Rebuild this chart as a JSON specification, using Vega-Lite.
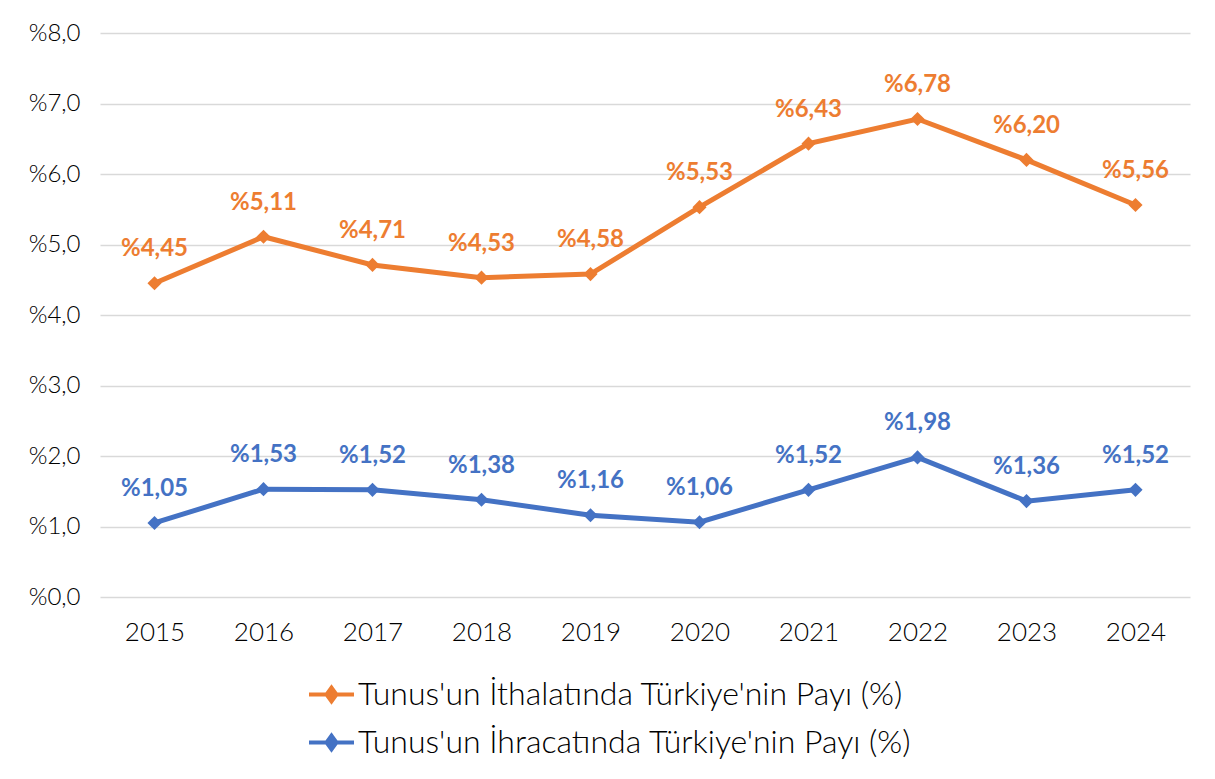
{
  "$schema": "https://vega.github.io/schema/vega-lite/v6.json",
  "width": 1090,
  "height": 564,
  "autosize": "none",
  "padding": {"left": 100, "top": 33, "right": 25, "bottom": 182},
  "background": "white",
  "config": {
    "view": {"stroke": null},
    "font": "Lato",
    "axis": {"labelFont": "Lato", "labelFontWeight": 300, "labelColor": "#000000", "domain": false, "ticks": false, "title": null}
  },
  "data": {
    "values": [
      {"year": "2015", "series": "Tunus'un İthalatında Türkiye'nin Payı (%)", "v": 4.45},
      {"year": "2016", "series": "Tunus'un İthalatında Türkiye'nin Payı (%)", "v": 5.11},
      {"year": "2017", "series": "Tunus'un İthalatında Türkiye'nin Payı (%)", "v": 4.71},
      {"year": "2018", "series": "Tunus'un İthalatında Türkiye'nin Payı (%)", "v": 4.53},
      {"year": "2019", "series": "Tunus'un İthalatında Türkiye'nin Payı (%)", "v": 4.58},
      {"year": "2020", "series": "Tunus'un İthalatında Türkiye'nin Payı (%)", "v": 5.53},
      {"year": "2021", "series": "Tunus'un İthalatında Türkiye'nin Payı (%)", "v": 6.43},
      {"year": "2022", "series": "Tunus'un İthalatında Türkiye'nin Payı (%)", "v": 6.78},
      {"year": "2023", "series": "Tunus'un İthalatında Türkiye'nin Payı (%)", "v": 6.20},
      {"year": "2024", "series": "Tunus'un İthalatında Türkiye'nin Payı (%)", "v": 5.56},
      {"year": "2015", "series": "Tunus'un İhracatında Türkiye'nin Payı (%)", "v": 1.05},
      {"year": "2016", "series": "Tunus'un İhracatında Türkiye'nin Payı (%)", "v": 1.53},
      {"year": "2017", "series": "Tunus'un İhracatında Türkiye'nin Payı (%)", "v": 1.52},
      {"year": "2018", "series": "Tunus'un İhracatında Türkiye'nin Payı (%)", "v": 1.38},
      {"year": "2019", "series": "Tunus'un İhracatında Türkiye'nin Payı (%)", "v": 1.16},
      {"year": "2020", "series": "Tunus'un İhracatında Türkiye'nin Payı (%)", "v": 1.06},
      {"year": "2021", "series": "Tunus'un İhracatında Türkiye'nin Payı (%)", "v": 1.52},
      {"year": "2022", "series": "Tunus'un İhracatında Türkiye'nin Payı (%)", "v": 1.98},
      {"year": "2023", "series": "Tunus'un İhracatında Türkiye'nin Payı (%)", "v": 1.36},
      {"year": "2024", "series": "Tunus'un İhracatında Türkiye'nin Payı (%)", "v": 1.52}
    ]
  },
  "transform": [
    {"calculate": "'%' + replace(format(datum.v, '.2f'), '.', ',')", "as": "label"}
  ],
  "encoding": {
    "x": {
      "field": "year", "type": "ordinal", "sort": null,
      "scale": {"type": "point", "padding": 0.5},
      "axis": {"labelAngle": 0, "labelPadding": 22, "labelFontSize": 26, "grid": false}
    },
    "y": {
      "field": "v", "type": "quantitative",
      "scale": {"domain": [0, 8], "nice": false, "zero": true},
      "axis": {
        "values": [0, 1, 2, 3, 4, 5, 6, 7, 8],
        "labelExpr": "'%' + replace(format(datum.value, '.1f'), '.', ',')",
        "labelPadding": 20,
        "labelFontSize": 24,
        "grid": true, "gridColor": "#D9D9D9", "gridWidth": 1.5
      }
    },
    "color": {
      "field": "series", "type": "nominal", "sort": null,
      "scale": {
        "domain": ["Tunus'un İthalatında Türkiye'nin Payı (%)", "Tunus'un İhracatında Türkiye'nin Payı (%)"],
        "range": ["#ED7D31", "#4472C4"]
      }
    }
  },
  "layer": [
    {
      "mark": {"type": "line", "strokeWidth": 5},
      "encoding": {
        "color": {
          "field": "series", "type": "nominal", "sort": null,
          "scale": {
            "domain": ["Tunus'un İthalatında Türkiye'nin Payı (%)", "Tunus'un İhracatında Türkiye'nin Payı (%)"],
            "range": ["#ED7D31", "#4472C4"]
          },
          "legend": {
            "orient": "none",
            "legendX": 207,
            "legendY": 637,
            "direction": "vertical",
            "title": null,
            "symbolType": "M-1,0 L1,0 M0,-0.3 L0.22,0 L0,0.3 L-0.22,0 Z",
            "symbolSize": 2025,
            "symbolStrokeWidth": 4,
            "labelFont": "Lato",
            "labelFontWeight": 300,
            "labelFontSize": 32,
            "labelColor": "#000000",
            "labelLimit": 900,
            "labelOffset": 2,
            "rowPadding": 7,
            "encode": {"symbols": {"update": {"fill": {"scale": "color", "field": "value"}}}}
          }
        }
      }
    },
    {
      "mark": {"type": "point", "shape": "diamond", "filled": true, "size": 200, "opacity": 1}
    },
    {
      "mark": {"type": "text", "dy": -34, "fontSize": 24, "fontWeight": "bold", "font": "Lato"},
      "encoding": {"text": {"field": "label"}}
    }
  ]
}
